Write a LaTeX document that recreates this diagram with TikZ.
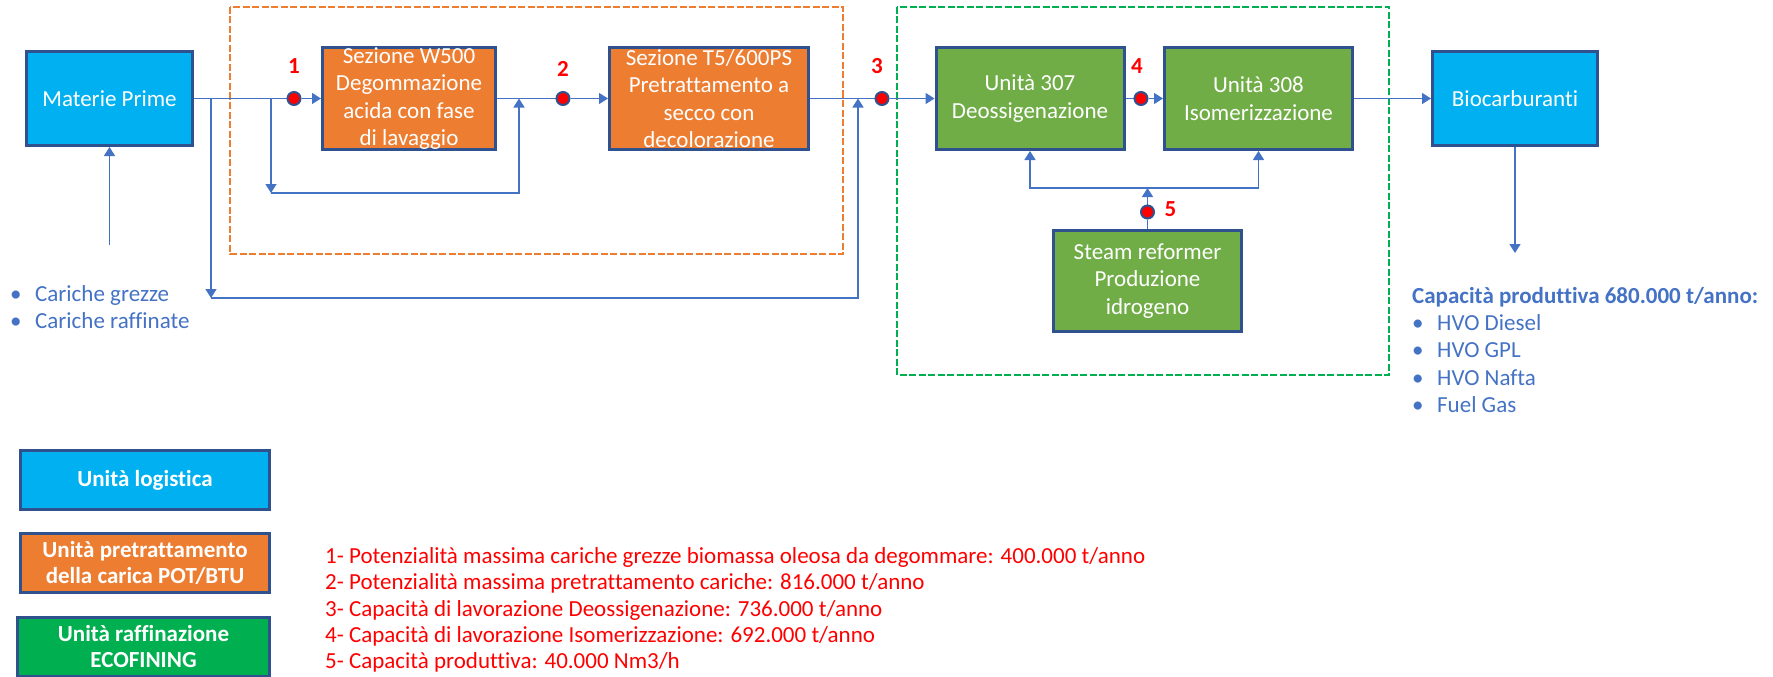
\documentclass[tikz,border=0pt]{standalone}
\usepackage{fontspec}
\setmainfont{Carlito}[Ligatures=NoCommon]
\usepackage{tikz}
\usetikzlibrary{arrows.meta,calc,backgrounds,positioning}
\definecolor{logblue}{HTML}{00B0F0}
\definecolor{pretorange}{HTML}{ED7D31}
\definecolor{refgreen}{HTML}{70AD47}
\definecolor{ecogreen}{HTML}{00B050}
\definecolor{edgeblue}{HTML}{2F528F}
\definecolor{flowblue}{HTML}{4472C4}
\definecolor{notered}{HTML}{FF0000}
\tikzstyle{flowsheet}=[
  x=1pt,y=-1pt,font=\fontsize{23}{27.4}\selectfont,>={Triangle[length=9pt,width=11pt]}
]
\tikzstyle{unitbox}=[
  draw=edgeblue,line width=3pt,text=white,align=center,inner sep=0pt
]
\tikzstyle{logunit}=[
  unitbox,fill=logblue,minimum width=166pt,minimum height=94pt
]
\tikzstyle{pretunit}=[
  unitbox,fill=pretorange,minimum height=102pt
]
\tikzstyle{refunit}=[
  unitbox,fill=refgreen,minimum width=188pt,minimum height=102pt
]
\tikzstyle{legbox}=[
  unitbox,minimum width=249pt,minimum height=59pt,font=\fontsize{23}{26}\selectfont\bfseries
]
\tikzstyle{flowdot}=[
  draw=edgeblue,fill=red,circle,line width=2pt,inner sep=0pt,minimum size=13pt
]
\tikzstyle{numlabel}=[
  text=notered,font=\fontsize{23}{26}\selectfont\bfseries,inner sep=0pt
]
\tikzstyle{pipe}=[
  draw=flowblue,line width=1.5pt
]
\tikzstyle{zonebox}=[
  line width=2.5pt,dash pattern=on 7pt off 2.5pt
]
\tikzstyle{listtext}=[
  text=flowblue,align=left,inner sep=0pt
]
\newcommand{\bulitem}[1]{\makebox[25pt][l]{\textbullet}#1}

\begin{document}
\begin{tikzpicture}[flowsheet]
    \useasboundingbox (0,0) rectangle (1773,677);
    \clip (0,0) rectangle (1773,677);
      % process units
      \node (mp) at (109.5,98.5) [logunit] {Materie Prime};
      \node (w500) at (409,98.5) [pretunit,minimum width=173pt] {Sezione W500\\Degommazione\\acida con fase\\di lavaggio};
      \node (t5) at (709,98.5) [pretunit,minimum width=199pt] {Sezione T5/600PS\\Pretrattamento a\\secco con\\decolorazione};
      \node (u307) at (1030,98.5) [refunit] {Unità 307\\Deossigenazione};
      \node (u308) at (1258.5,98.5) [refunit] {Unità 308\\Isomerizzazione};
      \node (bio) at (1515,98.5) [logunit,minimum width=165pt] {Biocarburanti};
      \node (steam) at (1147.5,281) [refunit,minimum height=101pt] {Steam reformer\\Produzione\\idrogeno};
      % measuring points
      \node (d1) at (294,98.5) [flowdot] {};
      \node (d2) at (563,98.5) [flowdot] {};
      \node (d3) at (882,98.5) [flowdot] {};
      \node (d4) at (1141,98.5) [flowdot] {};
      \node (d5) at (1147.5,212) [flowdot] {};
      \node (n1) at ($(d1) + (0,-32)$) [numlabel] {1};
      \node (n2) at ($(d2) + (0,-30)$) [numlabel] {2};
      \node (n3) at ($(d3) + (-5,-32)$) [numlabel] {3};
      \node (n4) at ($(d4) + (-4,-32)$) [numlabel] {4};
      \node (n5) at ($(d5) + (23,-3)$) [numlabel] {5};
      % free ends and corners
      \coordinate (mpin) at (109.5,245);
      \coordinate (bioout) at (1515,253);
      \coordinate (j1) at (271,98.5);
      \coordinate (j1b) at (271,193);
      \coordinate (j2) at (519,98.5);
      \coordinate (b1) at (211,98.5);
      \coordinate (b1b) at (211,298);
      \coordinate (b2) at (858,98.5);
      \coordinate (h2) at (1147.5,188);
      % texts
      \node (inputs) at (10,307) [listtext,anchor=west] {\bulitem{Cariche grezze}\\\bulitem{Cariche raffinate}};
      \node (outputs) at (1412,350) [listtext,anchor=west] {\textbf{Capacità produttiva 680.000 t/anno:}\\\bulitem{HVO Diesel}\\\bulitem{HVO GPL}\\\bulitem{HVO Nafta}\\\bulitem{Fuel Gas}};
      \node (notes) at (325,610) [anchor=west,align=left,inner sep=0pt,text=notered,font=\fontsize{23}{26.4}\selectfont] {1- Potenzialità massima cariche grezze biomassa oleosa da degommare: 400.000 t/anno\\2- Potenzialità massima pretrattamento cariche: 816.000 t/anno\\3- Capacità di lavorazione Deossigenazione: 736.000 t/anno\\4- Capacità di lavorazione Isomerizzazione: 692.000 t/anno\\5- Capacità produttiva: 40.000 Nm3/h};
      % legend
      \node (leglog) at (145,480) [legbox,fill=logblue] {Unità logistica};
      \node (legpret) at (145,563) [legbox,fill=pretorange] {Unità pretrattamento\\della carica POT/BTU};
      \node (legref) at (143.5,647) [legbox,fill=ecogreen,minimum width=252pt] {Unità raffinazione\\ECOFINING};
    \begin{scope}[on background layer]
      \draw [zonebox,draw=pretorange] (230,7) rectangle (843,254);
      \draw [zonebox,draw=ecogreen] (897,7) rectangle (1389,375);
      \draw [pipe,->] (mpin) -- (mp);
      \draw [pipe] (mp) -- (d1);
      \draw [pipe,->] (d1) -- (w500);
      \draw [pipe] (w500) -- (d2);
      \draw [pipe,->] (d2) -- (t5);
      \draw [pipe] (t5) -- (d3);
      \draw [pipe,->] (d3) -- (u307);
      \draw [pipe] (u307) -- (d4);
      \draw [pipe,->] (d4) -- (u308);
      \draw [pipe,->] (u308) -- (bio);
      \draw [pipe,->] (bio) -- (bioout);
      \draw [pipe,->] (j1) -- (j1b);
      \draw [pipe,->] (j1b) -| (j2);
      \draw [pipe,->] (b1) -- (b1b);
      \draw [pipe,->] (b1b) -| (b2);
      \draw [pipe] (steam) -- (d5);
      \draw [pipe,->] (d5) -- (h2);
      \draw [pipe,->] (h2) -| (u307);
      \draw [pipe,->] (h2) -| (u308);
    \end{scope}
    \end{tikzpicture}
\end{document}
